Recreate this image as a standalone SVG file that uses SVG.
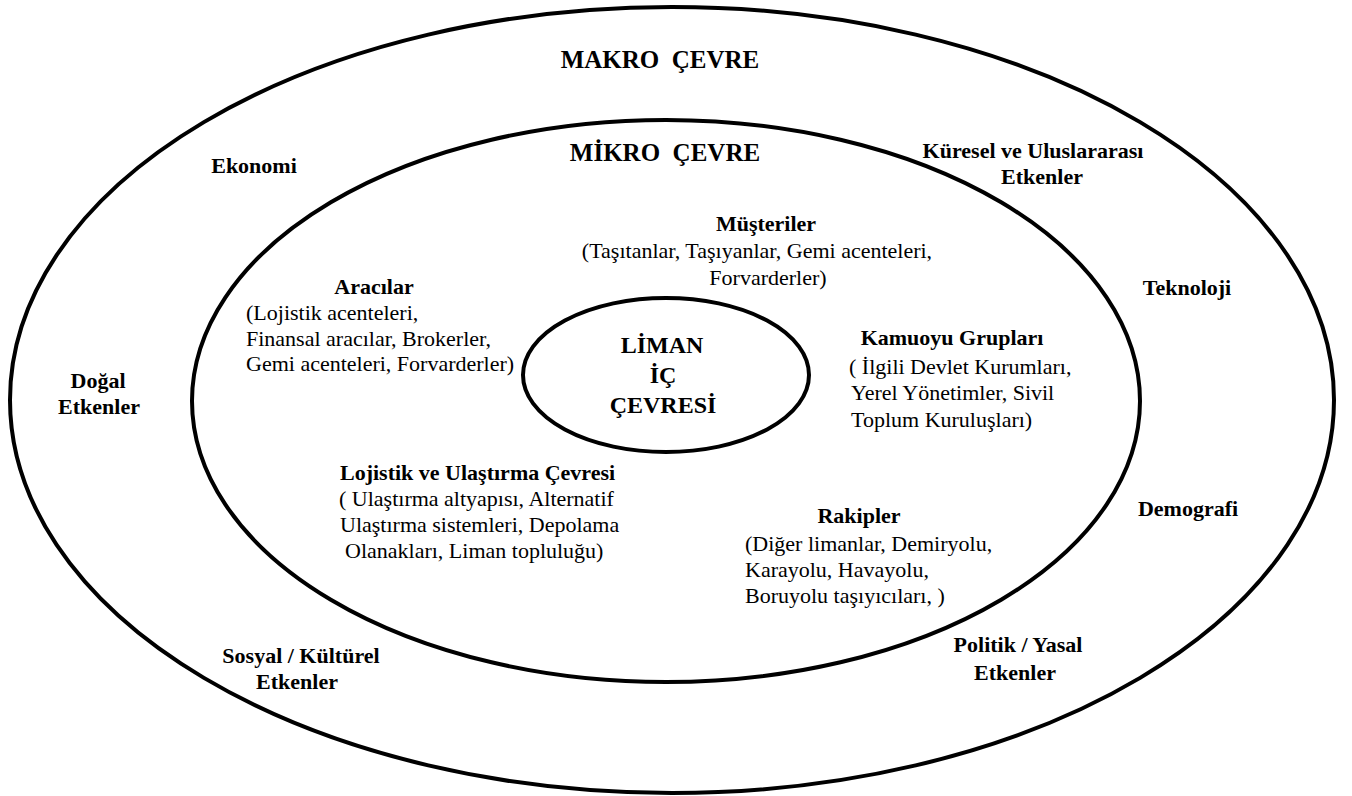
<svg xmlns="http://www.w3.org/2000/svg" width="1352" height="796" viewBox="0 0 1352 796">
<style>
.ring{fill:none;stroke:#000;stroke-width:4}
text{font-family:"Liberation Serif","Times New Roman",serif;fill:#000;font-size:22px}
.b{font-weight:bold}
.t{font-weight:bold;font-size:25px}
.c{text-anchor:middle}
</style>
<rect width="1352" height="796" fill="#fff"/>
<g id="makro-cevre">
<ellipse class="ring" cx="672" cy="400" rx="662" ry="393"/>
<text class="t c" x="660" y="68" xml:space="preserve">MAKRO  ÇEVRE</text>
</g>
<g id="mikro-cevre">
<ellipse class="ring" cx="666" cy="401" rx="474" ry="281"/>
<text class="t c" x="665" y="161" xml:space="preserve">MİKRO  ÇEVRE</text>
</g>
<g id="liman-ic-cevresi">
<ellipse class="ring" cx="666" cy="375" rx="143" ry="77"/>
<text class="b c" style="font-size:24px" x="662" y="353">LİMAN</text>
<text class="b c" style="font-size:24px" x="663" y="383">İÇ</text>
<text class="b c" style="font-size:24px" x="663" y="413">ÇEVRESİ</text>
</g>
<g id="ekonomi"><text class="b c" x="254" y="173">Ekonomi</text></g>
<g id="kuresel"><text class="b c" x="1033" y="158">Küresel ve Uluslararası</text><text class="b c" x="1042" y="184">Etkenler</text></g>
<g id="teknoloji"><text class="b c" x="1187" y="295">Teknoloji</text></g>
<g id="demografi"><text class="b c" x="1188" y="516">Demografi</text></g>
<g id="politik"><text class="b c" x="1018" y="652">Politik / Yasal</text><text class="b c" x="1015" y="680">Etkenler</text></g>
<g id="sosyal"><text class="b c" x="301" y="663">Sosyal / Kültürel</text><text class="b c" x="297" y="689">Etkenler</text></g>
<g id="dogal"><text class="b c" x="98" y="388">Doğal</text><text class="b c" x="99" y="414">Etkenler</text></g>
<g id="musteriler">
<text class="b c" x="766" y="231">Müşteriler</text>
<text class="c" x="757" y="258">(Taşıtanlar, Taşıyanlar, Gemi acenteleri,</text>
<text class="c" x="768" y="285">Forvarderler)</text>
</g>
<g id="aracilar">
<text class="b c" x="374" y="294">Aracılar</text>
<text x="246" y="320">(Lojistik acenteleri,</text>
<text x="246" y="346">Finansal aracılar, Brokerler,</text>
<text x="246" y="371">Gemi acenteleri, Forvarderler)</text>
</g>
<g id="kamuoyu">
<text class="b c" x="952" y="345">Kamuoyu Grupları</text>
<text x="849" y="374">( İlgili Devlet Kurumları,</text>
<text x="851" y="400">Yerel Yönetimler, Sivil</text>
<text x="851" y="427">Toplum Kuruluşları)</text>
</g>
<g id="lojistik">
<text class="b" x="340" y="480">Lojistik ve Ulaştırma Çevresi</text>
<text x="339" y="506">( Ulaştırma altyapısı, Alternatif</text>
<text x="340" y="532">Ulaştırma sistemleri, Depolama</text>
<text x="345" y="558">Olanakları, Liman topluluğu)</text>
</g>
<g id="rakipler">
<text class="b c" x="859" y="523">Rakipler</text>
<text x="745" y="551">(Diğer limanlar, Demiryolu,</text>
<text x="745" y="577">Karayolu, Havayolu,</text>
<text x="745" y="603">Boruyolu taşıyıcıları, )</text>
</g>
<g id="connectors"/>
</svg>
